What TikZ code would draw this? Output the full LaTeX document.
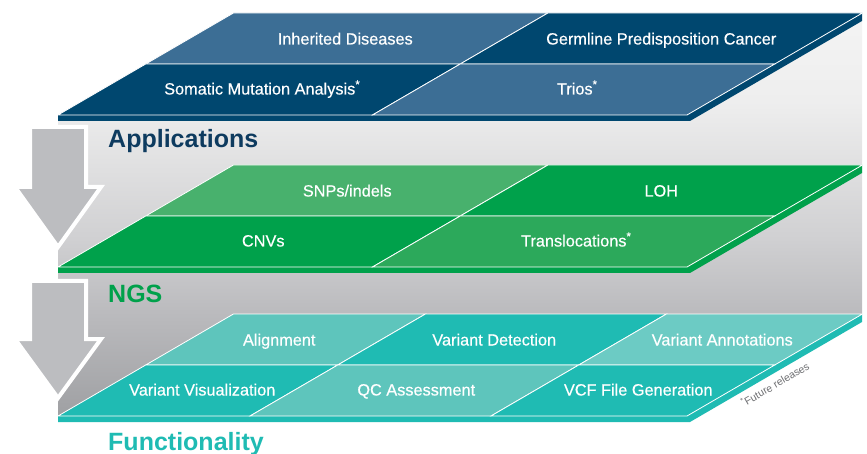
\documentclass[tikz,border=0pt]{standalone}
\usepackage{fontspec}
\setmainfont{Liberation Sans}
\newfontfamily\medfont[FakeBold=0.4]{Liberation Sans}

\definecolor{appdark}{HTML}{00476F}
\definecolor{applight}{HTML}{3C6E95}
\definecolor{appname}{HTML}{0E3B5F}
\definecolor{ngsdark}{HTML}{00A14B}
\definecolor{ngsmid}{HTML}{2CA95B}
\definecolor{ngslight}{HTML}{48B16D}
\definecolor{fundark}{HTML}{1FBBB3}
\definecolor{funlight}{HTML}{5EC5BC}
\definecolor{funpale}{HTML}{6CCBC4}
\definecolor{arrowgray}{HTML}{BCBDC0}
\definecolor{notegray}{HTML}{6D6E71}
\definecolor{bgtop}{HTML}{F4F4F4}
\definecolor{bglight}{HTML}{EEEEEE}
\definecolor{bgsoft}{HTML}{D0D0D2}
\definecolor{bgmid}{HTML}{BBBBBE}
\definecolor{bgdark}{HTML}{9FA0A3}

\pgfdeclareverticalshading{backdrop}{100bp}{color(0bp)=(bgdark); color(25bp)=(bgdark); color(38bp)=(bgmid); color(47bp)=(bgsoft); color(64bp)=(bglight); color(75bp)=(bgtop); color(100bp)=(bgtop)}

\tikzset{
    tile/.style={draw=white, line width=0.8pt, line join=miter},
    tiletext/.style={text=white, anchor=base, inner sep=0pt, font=\medfont\fontsize{16.3}{19}\selectfont},
    layername/.style={anchor=base west, inner sep=0pt, font=\fontsize{25}{30}\selectfont\bfseries},
    bigarrow/.style={fill=arrowgray, draw=white, line width=4pt, line join=miter},
}

\def\tilt{1.72}

\begin{document}
\begin{tikzpicture}[x=1pt, y=-1pt]
            \useasboundingbox (0,0) rectangle (867,454);

            % grey backdrop behind the layers
            \shade[shading=backdrop] (58,115) -- (687,115) -- (862,13) -- (862,314) -- (233,314) -- (58,416) -- cycle;

            % arrows
            \draw[bigarrow] (30,127) -- (86,127) -- (86,187) -- (101,187) -- (58,247) -- (15,187) -- (30,187) -- cycle;
            \draw[bigarrow] (30,281) -- (86,281) -- (86,339) -- (101,339) -- (58,398) -- (15,339) -- (30,339) -- cycle;

            % applications
            \fill[appdark] (58,115) -- (687,115) -- (862,13) -- (862,21) -- (690,121) -- (58,121) -- cycle;
            \begin{scope}[shift={(58,115)}, x={(1pt,0pt)}, y={(\tilt pt,1pt)}]
                \draw[tile, fill=applight] (0,51) -- (314.5,51) -- (314.5,102) -- (0,102) -- cycle;
                \draw[tile, fill=appdark] (314.5,51) -- (629,51) -- (629,102) -- (314.5,102) -- cycle;
                \draw[tile, fill=appdark] (0,0) -- (314.5,0) -- (314.5,51) -- (0,51) -- cycle;
                \draw[tile, fill=applight] (314.5,0) -- (629,0) -- (629,51) -- (314.5,51) -- cycle;
                \node[tiletext] (inherited) at (166,70.5) {Inherited Diseases};
                \node[tiletext] (germline) at (482,70.5) {Germline Predisposition Cancer};
                \node[tiletext] (somatic) at (169,20.5) {Somatic Mutation Analysis\textsuperscript{*}};
                \node[tiletext] (trios) at (484,20.5) {Trios\textsuperscript{*}};
            \end{scope}
            \node[layername, text=appname] (lblapp) at (108,148) {Applications};

            % ngs
            \fill[ngsdark] (58,267) -- (687,267) -- (862,165) -- (862,173) -- (690,273) -- (58,273) -- cycle;
            \begin{scope}[shift={(58,267)}, x={(1pt,0pt)}, y={(\tilt pt,1pt)}]
                \draw[tile, fill=ngslight] (0,51) -- (314.5,51) -- (314.5,102) -- (0,102) -- cycle;
                \draw[tile, fill=ngsdark] (314.5,51) -- (629,51) -- (629,102) -- (314.5,102) -- cycle;
                \draw[tile, fill=ngsdark] (0,0) -- (314.5,0) -- (314.5,51) -- (0,51) -- cycle;
                \draw[tile, fill=ngsmid] (314.5,0) -- (629,0) -- (629,51) -- (314.5,51) -- cycle;
                \node[tiletext] (snps) at (168,70.5) {SNPs/indels};
                \node[tiletext] (loh) at (482,70.5) {LOH};
                \node[tiletext] (cnvs) at (170,20.5) {CNVs};
                \node[tiletext] (transloc) at (483,20.5) {Translocations\textsuperscript{*}};
            \end{scope}
            \node[layername, text=ngsdark] (lblngs) at (108,302) {NGS};

            % functionality
            \fill[fundark] (58,416) -- (687,416) -- (862,314) -- (862,322) -- (690,422) -- (58,422) -- cycle;
            \begin{scope}[shift={(58,416)}, x={(1pt,0pt)}, y={(\tilt pt,1pt)}]
                \draw[tile, fill=funlight] (0,51) -- (192,51) -- (192,102) -- (0,102) -- cycle;
                \draw[tile, fill=fundark] (192,51) -- (433,51) -- (433,102) -- (192,102) -- cycle;
                \draw[tile, fill=funpale] (433,51) -- (629,51) -- (629,102) -- (433,102) -- cycle;
                \draw[tile, fill=fundark] (0,0) -- (192,0) -- (192,51) -- (0,51) -- cycle;
                \draw[tile, fill=funlight] (192,0) -- (433,0) -- (433,51) -- (192,51) -- cycle;
                \draw[tile, fill=fundark] (433,0) -- (629,0) -- (629,51) -- (433,51) -- cycle;
                \node[tiletext] (align) at (100,70.5) {Alignment};
                \node[tiletext] (detect) at (315,70.5) {Variant Detection};
                \node[tiletext] (annot) at (543,70.5) {Variant Annotations};
                \node[tiletext] (visual) at (109,20.5) {Variant Visualization};
                \node[tiletext] (qc) at (323,20.5) {QC Assessment};
                \node[tiletext] (vcf) at (545,20.5) {VCF File Generation};
            \end{scope}
            \node[layername, text=fundark] (lblfun) at (108,450) {Functionality};

            \node[rotate=30, text=notegray, font=\fontsize{10.5}{12}\selectfont] (future) at (775,384) {\textsuperscript{*}Future releases};

        \end{tikzpicture}
\end{document}
